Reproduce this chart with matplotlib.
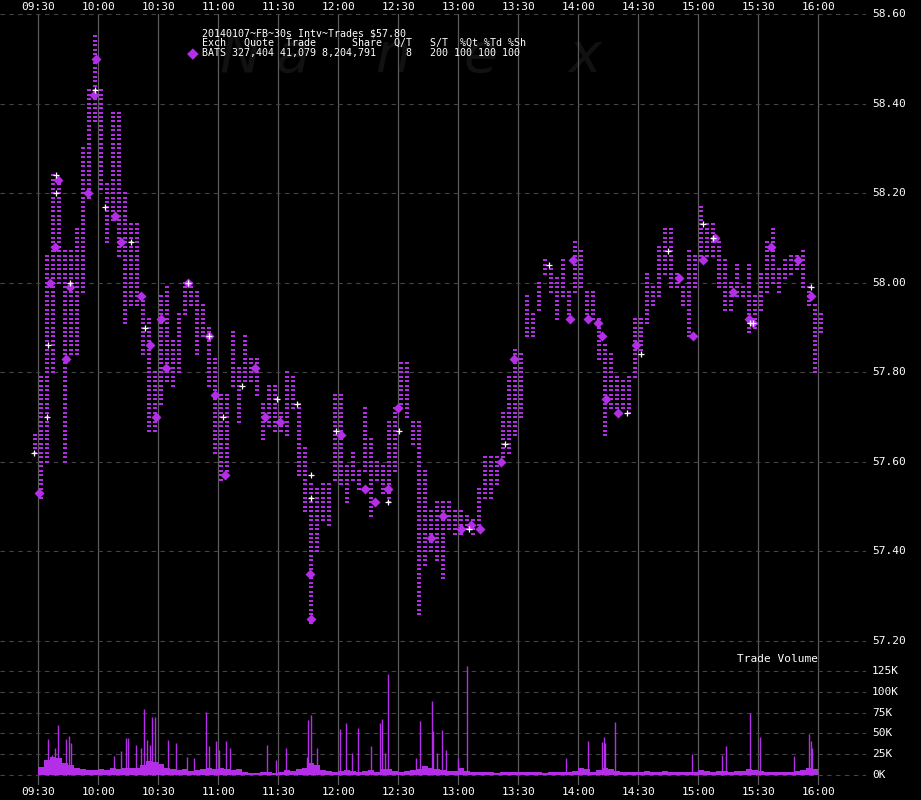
import matplotlib
matplotlib.use("Agg")
import matplotlib.pyplot as plt
import numpy as np

# ---------------- data ----------------
# 3-minute buckets starting at 09:30 (minutes after 09:30); plus pre/post buckets
bucket_start = [-3] + list(range(0, 390, 3)) + [390]
price_high = [57.66,
    57.79, 58.06, 58.24, 58.22, 58.07, 58.07, 58.12, 58.30, 58.43, 58.55,
    58.43, 58.22, 58.38, 58.38, 58.20, 58.13, 58.13, 57.97, 57.92, 57.80,
    57.97, 57.99, 57.87, 57.93, 58.00, 58.00, 57.98, 57.95, 57.90, 57.83,
    57.75, 57.75, 57.89, 57.81, 57.88, 57.83, 57.83, 57.73, 57.77, 57.77,
    57.71, 57.80, 57.79, 57.73, 57.63, 57.55, 57.54, 57.55, 57.55, 57.75,
    57.75, 57.59, 57.62, 57.58, 57.72, 57.65, 57.60, 57.59, 57.69, 57.72,
    57.82, 57.82, 57.69, 57.69, 57.58, 57.49, 57.51, 57.51, 57.51, 57.49,
    57.49, 57.48, 57.47, 57.54, 57.61, 57.61, 57.61, 57.71, 57.79, 57.85,
    57.84, 57.97, 57.93, 58.00, 58.05, 58.03, 58.01, 58.05, 57.98, 58.09,
    58.07, 57.98, 57.98, 57.92, 57.86, 57.84, 57.79, 57.78, 57.79, 57.92,
    57.92, 58.02, 57.99, 58.08, 58.12, 58.12, 58.02, 57.99, 58.07, 58.06,
    58.17, 58.13, 58.13, 58.09, 58.05, 58.00, 58.04, 57.99, 58.04, 57.97,
    58.02, 58.09, 58.12, 58.03, 58.05, 58.06, 58.06, 58.07, 57.99, 57.95,
    57.93]
price_low = [57.62,
    57.52, 57.60, 57.80, 58.00, 57.60, 57.84, 57.84, 57.98, 58.19, 58.36,
    58.21, 58.09, 58.14, 58.06, 57.91, 57.95, 57.95, 57.84, 57.67, 57.67,
    57.73, 57.78, 57.77, 57.80, 57.93, 57.95, 57.84, 57.88, 57.77, 57.62,
    57.56, 57.57, 57.77, 57.69, 57.78, 57.78, 57.75, 57.65, 57.68, 57.67,
    57.67, 57.66, 57.72, 57.57, 57.49, 57.24, 57.40, 57.47, 57.46, 57.56,
    57.55, 57.51, 57.56, 57.54, 57.58, 57.48, 57.56, 57.53, 57.51, 57.58,
    57.72, 57.70, 57.64, 57.26, 57.37, 57.40, 57.38, 57.34, 57.45, 57.44,
    57.44, 57.45, 57.44, 57.45, 57.52, 57.52, 57.55, 57.60, 57.62, 57.66,
    57.70, 57.88, 57.88, 57.94, 58.02, 57.98, 57.92, 57.97, 57.92, 57.98,
    57.99, 57.92, 57.92, 57.83, 57.66, 57.72, 57.71, 57.72, 57.71, 57.79,
    57.85, 57.91, 57.95, 57.97, 58.02, 57.99, 57.99, 57.95, 57.88, 57.99,
    58.05, 58.06, 58.06, 57.99, 57.94, 57.94, 57.97, 57.97, 57.89, 57.90,
    57.94, 57.98, 58.00, 57.98, 58.01, 58.02, 58.03, 57.99, 57.95, 57.80,
    57.89]

# larger diamond trades (minutes after 09:30, price)
diamond_t = [0.4, 5.7, 8.2, 9.9, 14.0, 15.7, 24.9, 27.6, 28.7, 38.2, 41.5, 51.5,
             55.7, 59.0, 61.4, 64.0, 74.8, 85.3, 88.2, 93.5, 108.2, 113.2, 120.7,
             135.7, 136.5, 151.5, 163.2, 168.2, 174.9, 179.9, 196.5, 202.3, 211.5,
             216.5, 220.6, 231.5, 237.8, 266.0, 267.3, 274.8, 279.8, 281.8, 284.0,
             289.8, 299.0, 320.2, 327.3, 332.3, 338.5, 347.3, 355.5, 357.3, 366.2,
             379.8, 386.2]
diamond_p = [57.53, 58.00, 58.08, 58.23, 57.83, 57.99, 58.20, 58.42, 58.50, 58.15,
             58.09, 57.97, 57.86, 57.70, 57.92, 57.81, 58.00, 57.88, 57.75, 57.57,
             57.81, 57.70, 57.69, 57.35, 57.25, 57.66, 57.54, 57.51, 57.54, 57.72,
             57.43, 57.48, 57.45, 57.46, 57.45, 57.60, 57.83, 57.92, 58.05, 57.92,
             57.91, 57.88, 57.74, 57.71, 57.86, 58.01, 57.88, 58.05, 58.10, 57.98,
             57.92, 57.91, 58.08, 58.05, 57.97]

# white highlighted trades
sparkle_t = [-2.2, 4.5, 4.9, 8.7, 9.0, 15.7, 28.2, 33.2, 46.2, 53.2, 74.8, 85.3,
             92.5, 101.8, 119.2, 129.5, 136.2, 136.2, 148.8, 175.0, 180.2, 215.4,
             233.4, 255.2, 294.4, 301.5, 314.6, 332.4, 337.4, 355.8, 357.3, 386.1]
sparkle_p = [57.62, 57.70, 57.86, 58.20, 58.24, 58.00, 58.43, 58.17, 58.09, 57.90,
             58.00, 57.88, 57.70, 57.77, 57.74, 57.73, 57.52, 57.57, 57.67, 57.51,
             57.67, 57.45, 57.64, 58.04, 57.71, 57.84, 58.07, 58.13, 58.10, 57.91,
             57.91, 57.99]

# volume: background level per 3-minute bucket (thousand shares)
vol_base = [10, 18, 22, 20, 14, 12, 9, 7, 6, 6,
            7, 6, 9, 7, 9, 9, 8, 12, 17, 16,
            13, 9, 7, 6, 7, 5, 6, 7, 9, 7,
            9, 7, 6, 7, 4, 3, 3, 4, 4, 3,
            4, 6, 5, 7, 9, 14, 12, 6, 5, 4,
            5, 6, 5, 4, 5, 6, 4, 7, 7, 5,
            4, 5, 6, 7, 11, 9, 7, 6, 5, 5,
            9, 5, 4, 4, 4, 4, 3, 4, 4, 4,
            4, 4, 4, 4, 3, 4, 4, 4, 4, 5,
            9, 7, 4, 6, 9, 7, 5, 4, 4, 4,
            4, 5, 4, 4, 5, 4, 4, 4, 4, 4,
            6, 5, 4, 5, 5, 4, 5, 5, 7, 6,
            5, 4, 4, 4, 4, 4, 5, 6, 9, 7]
# individual volume spikes (minutes after 09:30, thousand shares)
spike_t = [4.9, 6.7, 8.2, 9.6, 14.0, 15.5, 16.1, 38.0, 41.5, 44.0, 44.8, 48.8,
           51.3, 53.0, 54.2, 55.7, 57.0, 58.3, 64.7, 69.0, 74.3, 77.8, 84.0, 85.2,
           88.9, 90.1, 93.6, 95.7, 114.5, 118.9, 124.0, 134.1, 135.0, 136.3, 139.4,
           151.0, 154.0, 156.9, 160.0, 166.4, 171.0, 172.0, 173.2, 174.6, 188.7, 191.0,
           196.6, 197.5, 199.5, 202.0, 203.8, 209.8, 214.5, 264.0, 275.0, 282.0,
           282.9, 283.5, 288.5, 326.7, 342.0, 344.0, 356.0, 361.0, 378.0, 385.5,
           386.4, 387.0]
spike_v = [43, 24, 32, 60, 43, 47, 38, 23, 29, 45, 45, 36,
           32, 79, 42, 36, 70, 70, 42, 38, 22, 20, 76, 35,
           41, 30, 41, 33, 36, 18, 33, 22, 66, 72, 32,
           55, 63, 26, 57, 35, 62, 67, 26, 121, 20, 65,
           89, 53, 26, 54, 30, 20, 131, 20, 41, 40,
           46, 38, 64, 25, 24, 35, 75, 46, 23, 49,
           41, 32]

time_labels = ["09:30", "10:00", "10:30", "11:00", "11:30", "12:00", "12:30",
               "13:00", "13:30", "14:00", "14:30", "15:00", "15:30", "16:00"]
price_ticks = [57.20, 57.40, 57.60, 57.80, 58.00, 58.20, 58.40, 58.60]
vol_ticks = [0, 25, 50, 75, 100, 125]

header_lines = ["20140107~FB~30s Intv~Trades $57.80",
                "Exch   Quote  Trade      Share  Q/T   S/T  %Qt %Td %Sh",
                "BATS 327,404 41,079 8,204,791     8   200 100 100 100"]

# ---------------- layout ----------------
W, H = 921, 800
PURPLE = "#b32ee6"
MONO = "DejaVu Sans Mono"
fig = plt.figure(figsize=(W / 100, H / 100), dpi=100, facecolor="black")

px_per_min = 2.0
x0 = 38.3            # pixel of 09:30
ax_right = 866
xl = (-x0 / px_per_min, (ax_right - x0) / px_per_min)

top_px, price_bot_px = 14, 655
ppd = (641 - 14) / 1.40
price_ylim = (58.60 - (price_bot_px - top_px) / ppd, 58.60)

ax = fig.add_axes([0, 1 - price_bot_px / H, ax_right / W, (price_bot_px - top_px) / H])
vax = fig.add_axes([0, 1 - 785 / H, ax_right / W, (785 - price_bot_px) / H])
px_per_k = 20.8 / 25
vax_ylim = (-(785 - 775) / px_per_k, (775 - price_bot_px) / px_per_k)

for a in (ax, vax):
    a.set_facecolor("none")
    a.set_xlim(*xl)
    for s in a.spines.values():
        s.set_visible(False)
    a.set_xticks([])
    a.set_yticks([])
    for i in range(len(time_labels)):
        a.axvline(i * 30, color="#5c5c5c", lw=0.9, zorder=1)
ax.set_ylim(*price_ylim)
vax.set_ylim(*vax_ylim)

for p in price_ticks:
    ax.axhline(p, color="#444444", lw=0.8, ls=(0, (4, 4)), zorder=1)
for v in vol_ticks:
    vax.axhline(v, color="#444444", lw=0.8, ls=(0, (4, 4)), zorder=1)

# faint watermark (drawn behind everything)
for ch, cx in zip("Nanex", [240, 293, 393, 481, 585]):
    fig.text(cx / W, 1 - 56 / H, ch, color="#111111", fontsize=40, style="italic",
             ha="center", va="center", family="DejaVu Sans", zorder=-5)

# price dots: one dash per cent between bucket low and high
dash = [(-2, -1), (2, -1), (2, 1), (-2, 1), (-2, -1)]
xs, ys = [], []
for b, lo, hi in zip(bucket_start, price_low, price_high):
    c0, c1 = int(round(lo * 100)), int(round(hi * 100))
    for c in range(c0, c1 + 1):
        xs.append(b + 1.5)
        ys.append(c / 100)
ax.scatter(xs, ys, marker=dash, s=(4 * 0.72) ** 2, color=PURPLE, linewidths=0, zorder=3)
ax.scatter(diamond_t, diamond_p, marker="D", s=26, color=PURPLE, linewidths=0, zorder=4)
ax.scatter(sparkle_t, sparkle_p, marker="+", s=14, color="white", linewidths=0.9, zorder=5)

# volume
vax.bar([b + 1.5 for b in bucket_start[1:-1]], vol_base, width=3, color=PURPLE,
        linewidth=0, zorder=3)
vax.vlines(spike_t, 0, spike_v, color=PURPLE, lw=1.0, zorder=3)

# labels
def fx(t):
    return (x0 + t * px_per_min) / W

for i, lab in enumerate(time_labels):
    for y in (7, 792):
        fig.text(fx(i * 30), 1 - y / H, lab, color="white", fontsize=8, family=MONO,
                 ha="center", va="center")
for p in price_ticks:
    y = top_px + (58.60 - p) * ppd
    fig.text(872 / W, 1 - y / H, f"{p:.2f}", color="white", fontsize=8, family=MONO,
             ha="left", va="center")
for v in vol_ticks:
    y = 775 - v * px_per_k
    fig.text(872 / W, 1 - y / H, f"{v}K", color="white", fontsize=8, family=MONO,
             ha="left", va="center")
fig.text(818 / W, 1 - 659 / H, "Trade Volume", color="white", fontsize=8, family=MONO,
         ha="right", va="center")

for j, line in enumerate(header_lines):
    fig.text(202 / W, 1 - (33 + 10 * j) / H, line, color="white", fontsize=7.2,
             family=MONO, ha="left", va="center")
fig.text(193 / W, 1 - 54 / H, "\u25C6", color=PURPLE, fontsize=11, ha="center",
         va="center", family="DejaVu Sans")

fig.savefig("out.png", dpi=100, facecolor="black")
